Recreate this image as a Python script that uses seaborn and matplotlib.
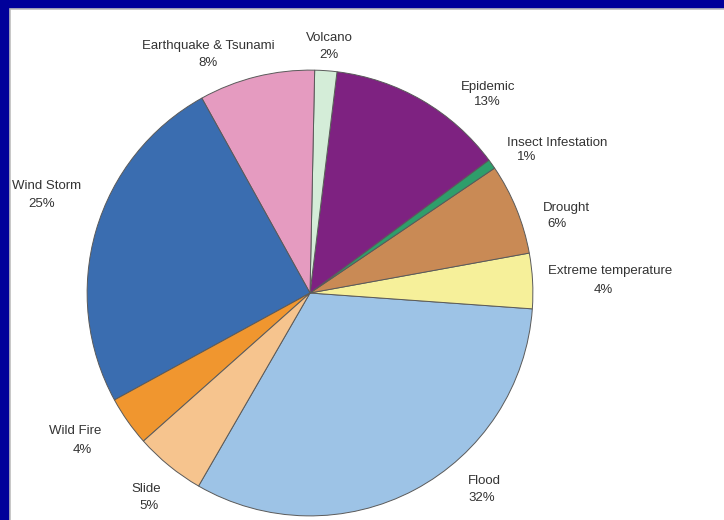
import matplotlib.pyplot as plt
import matplotlib.patches as mpatches
import seaborn as sns

# disaster categories, counter-clockwise starting at the Flood slice
categories = ["Flood", "Extreme temperature", "Drought", "Insect Infestation",
              "Epidemic", "Volcano", "Earthquake & Tsunami", "Wind Storm",
              "Wild Fire", "Slide"]
shares = [32.2, 4.0, 6.6, 0.7, 12.9, 1.6, 8.4, 24.9, 3.6, 5.1]
pct_labels = ["32%", "4%", "6%", "1%", "13%", "2%", "8%", "25%", "4%", "5%"]

colors = ["#9dc3e6", "#f6f09a", "#c98a55", "#2e9e6b", "#7e2281",
          "#d4edd8", "#e59bc0", "#3a6db0", "#f0962f", "#f6c48e"]

# label placement in pixels: (name x, name y, pct x, pct y)
label_pos = [
    (484, 481, 482, 498),
    (610, 271, 603, 290),
    (566, 208, 557, 224),
    (557, 143, 527, 157),
    (488, 87, 487, 102),
    (329, 38, 329, 55),
    (208, 46, 208, 63),
    (47, 186, 42, 204),
    (75, 431, 82, 450),
    (146, 489, 149, 506),
]

sns.set_theme(style="white")
plt.rcParams["font.family"] = ["Liberation Sans", "DejaVu Sans"]

W, H = 724, 520
fig = plt.figure(figsize=(W / 100, H / 100), dpi=100)
fig.patch.set_facecolor("#00009a")

# white panel inside the blue frame (runs off the right and bottom edges)
panel = mpatches.Rectangle((10 / W, -0.05), 1.1, 1.05 - 9 / H,
                           transform=fig.transFigure, facecolor="white",
                           edgecolor="#bdbdbd", linewidth=1.2, zorder=-5)
fig.patches.append(panel)

# pie axes: centre (310, 293) px, radius 224 px
cx, cy, r = 310, 293, 224
ax = fig.add_axes([(cx - r) / W, (H - cy - r) / H, 2 * r / W, 2 * r / H])
ax.set_zorder(2)
ax.patch.set_alpha(0)
ax.pie(shares, colors=colors, startangle=240, counterclock=True,
       wedgeprops=dict(edgecolor="#5a5a5a", linewidth=0.7))
ax.set_xlim(-1.005, 1.005)
ax.set_ylim(-1.005, 1.005)
ax.set_aspect("equal")
ax.axis("off")

for name, pct, (nx, ny, px, py) in zip(categories, pct_labels, label_pos):
    fig.text(nx / W, 1 - ny / H, name, ha="center", va="center",
             fontsize=9.5, color="#333333", zorder=3)
    fig.text(px / W, 1 - py / H, pct, ha="center", va="center",
             fontsize=9.5, color="#333333", zorder=3)

fig.savefig("out.png", dpi=100, facecolor=fig.get_facecolor())
